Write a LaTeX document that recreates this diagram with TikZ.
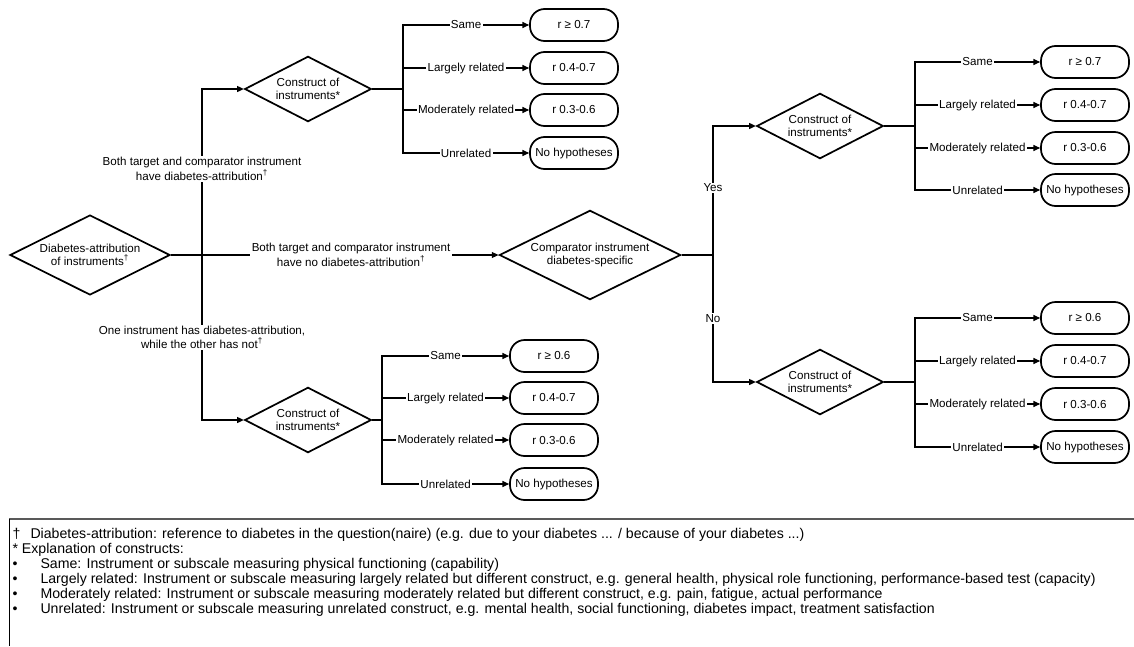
\documentclass[tikz,border=0pt]{standalone}
\usepackage{fontspec}
\setmainfont{Liberation Sans}
\usetikzlibrary{shapes.geometric,arrows.meta}

\begin{document}
\begin{tikzpicture}[x=0.75pt,y=-0.75pt,line width=0.8pt,
  >={Triangle[length=5pt,width=4.5pt]},
  every node/.style={font=\fontsize{8.7}{10}\selectfont},
  dec/.style={diamond,draw,line width=1.3pt,aspect=2,inner sep=0pt,align=center},
  res/.style={rectangle,rounded corners=11pt,draw,line width=1.3pt,minimum width=66pt,minimum height=24pt,inner sep=0pt},
  lab/.style={fill=white,inner sep=1pt,align=center},
  note/.style={anchor=west,inner sep=0pt,font=\fontsize{10.6}{12}\selectfont}]
\useasboundingbox (0,0) rectangle (1134,646);

% decisions
\node[dec,minimum width=120pt,minimum height=60pt] (dattr) at (90,255) {Diabetes-attribution\\of instruments\textsuperscript{†}};
\node[dec,minimum width=95pt,minimum height=49pt] (constrA) at (308,89) {Construct of\\instruments*};
\node[dec,minimum width=95pt,minimum height=49pt] (constrB) at (308,420) {Construct of\\instruments*};
\node[dec,minimum width=136pt,minimum height=67pt] (compar) at (590,255) {Comparator instrument\\diabetes-specific};
\node[dec,minimum width=95pt,minimum height=49pt] (constrC) at (820,126) {Construct of\\instruments*};
\node[dec,minimum width=95pt,minimum height=49pt] (constrD) at (820,382) {Construct of\\instruments*};

\coordinate (split) at (202,255);
\coordinate (yesno) at (713,255);
\coordinate (fanA) at (403,89);
\coordinate (fanB) at (382,420);
\coordinate (fanC) at (915,126);
\coordinate (fanD) at (915,382);

% hypotheses
\node[res] (a1) at (574,25) {r ≥ 0.7};
\node[res] (a2) at (574,68) {r 0.4-0.7};
\node[res] (a3) at (574,110) {r 0.3-0.6};
\node[res] (a4) at (574,153) {No hypotheses};
\node[res] (b1) at (554,356) {r ≥ 0.6};
\node[res] (b2) at (554,398) {r 0.4-0.7};
\node[res] (b3) at (554,440) {r 0.3-0.6};
\node[res] (b4) at (554,484) {No hypotheses};
\node[res] (c1) at (1085,62) {r ≥ 0.7};
\node[res] (c2) at (1085,105) {r 0.4-0.7};
\node[res] (c3) at (1085,148) {r 0.3-0.6};
\node[res] (c4) at (1085,190) {No hypotheses};
\node[res] (d1) at (1085,318) {r ≥ 0.6};
\node[res] (d2) at (1085,361) {r 0.4-0.7};
\node[res] (d3) at (1085,404) {r 0.3-0.6};
\node[res] (d4) at (1085,447) {No hypotheses};

% attribution
\draw[->] (dattr) -- node[lab,pos=0.55] {Both target and comparator instrument\\have no diabetes-attribution\textsuperscript{†}} (compar);
\draw[->] (split) |- node[lab,pos=0.26] {Both target and comparator instrument\\have diabetes-attribution\textsuperscript{†}} (constrA);
\draw[->] (split) |- node[lab,pos=0.25] {One instrument has diabetes-attribution,\\while the other has not\textsuperscript{†}} (constrB);
\draw (compar) -- (yesno);
\draw[->] (yesno) |- node[lab,pos=0.26] {Yes} (constrC);
\draw[->] (yesno) |- node[lab,pos=0.25] {No} (constrD);

% constructs
\draw (constrA) -- (fanA);
\draw[->] (fanA) |- node[lab,pos=0.75] {Same} (a1);
\draw[->] (fanA) |- node[lab,pos=0.75] {Largely related} (a2);
\draw[->] (fanA) |- node[lab,pos=0.75] {Moderately related} (a3);
\draw[->] (fanA) |- node[lab,pos=0.75] {Unrelated} (a4);
\draw (constrB) -- (fanB);
\draw[->] (fanB) |- node[lab,pos=0.75] {Same} (b1);
\draw[->] (fanB) |- node[lab,pos=0.75] {Largely related} (b2);
\draw[->] (fanB) |- node[lab,pos=0.75] {Moderately related} (b3);
\draw[->] (fanB) |- node[lab,pos=0.75] {Unrelated} (b4);
\draw (constrC) -- (fanC);
\draw[->] (fanC) |- node[lab,pos=0.75] {Same} (c1);
\draw[->] (fanC) |- node[lab,pos=0.75] {Largely related} (c2);
\draw[->] (fanC) |- node[lab,pos=0.75] {Moderately related} (c3);
\draw[->] (fanC) |- node[lab,pos=0.75] {Unrelated} (c4);
\draw (constrD) -- (fanD);
\draw[->] (fanD) |- node[lab,pos=0.75] {Same} (d1);
\draw[->] (fanD) |- node[lab,pos=0.75] {Largely related} (d2);
\draw[->] (fanD) |- node[lab,pos=0.75] {Moderately related} (d3);
\draw[->] (fanD) |- node[lab,pos=0.75] {Unrelated} (d4);

% footnotes
\draw[gray!70!black,line width=1.2pt] (1134,519) -- (9,519);
\draw[line width=0.6pt] (9,519) -- (9,646);
\node[note] (fndag) at (12,535) {\makebox[13.5pt][l]{†}Diabetes-attribution: reference to diabetes in the question(naire) (e.g. due to your diabetes ... / because of your diabetes ...)};
\node[note] (fnstar) at (12,550) {* Explanation of constructs:};
\node[note] (fnsame) at (12,565) {\makebox[21pt][l]{•}Same: Instrument or subscale measuring physical functioning (capability)};
\node[note] (fnlarge) at (12,580) {\makebox[21pt][l]{•}Largely related: Instrument or subscale measuring largely related but different construct, e.g. general health, physical role functioning, performance-based test (capacity)};
\node[note] (fnmod) at (12,595) {\makebox[21pt][l]{•}Moderately related: Instrument or subscale measuring moderately related but different construct, e.g. pain, fatigue, actual performance};
\node[note] (fnunrel) at (12,610) {\makebox[21pt][l]{•}Unrelated: Instrument or subscale measuring unrelated construct, e.g. mental health, social functioning, diabetes impact, treatment satisfaction};
\end{tikzpicture}
\end{document}
